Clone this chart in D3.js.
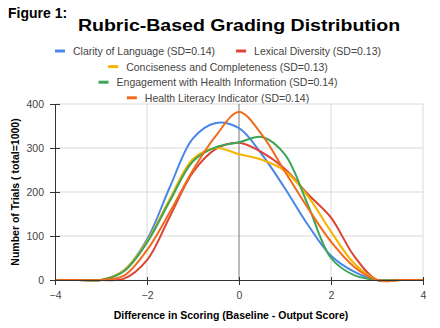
<!DOCTYPE html>
<html>
<head>
<meta charset="utf-8">
<script src="https://cdn.jsdelivr.net/npm/d3@7"></script>
<style>
  body { margin: 0; background: #fff; }
  text { font-family: Arial, "Liberation Sans", sans-serif; }
</style>
</head>
<body>
<div id="vis"></div>
<script>
// x positions of the points (score difference)
var xs = [-4, -3.5, -3, -2.5, -2, -1.5, -1, -0.5, 0, 0.5, 1, 1.5, 2, 2.5, 3, 3.5, 4];

// counts per series
var clarity     = [0, 0, 0, 22, 92, 212, 322, 357, 345, 285, 208, 125, 55, 19, 0, 0, 0];
var lexical     = [0, 0, 0, 3, 45, 145, 245, 298, 312, 290, 252, 195, 142, 55, 0, 0, 0];
var concise     = [0, 0, 0, 22, 88, 185, 275, 300, 286, 273, 248, 190, 110, 38, 0, 0, 0];
var engagement  = [0, 0, 0, 20, 85, 180, 270, 302, 313, 325, 285, 170, 50, 11, 0, 0, 0];
var literacy    = [0, 0, 0, 10, 68, 155, 250, 328, 382, 330, 246, 163, 87, 30, 0, 0, 0];

var seriesNames = ["Clarity of Language (SD=0.14)", "Lexical Diversity (SD=0.13)",
                   "Conciseness and Completeness (SD=0.13)", "Engagement with Health Information (SD=0.14)",
                   "Health Literacy Indicator (SD=0.14)"];
var seriesColors = ["#4a86e8", "#db4437", "#f4b400", "#3da556", "#f26b1d"];
var seriesValues = [clarity, lexical, concise, engagement, literacy];

var xTicks = [-4, -2, 0, 2, 4];
var yTicks = [0, 100, 200, 300, 400];

var W = 440, H = 328;
var margin = {top: 104, right: 17, bottom: 48, left: 55};

var svg = d3.select("#vis").append("svg")
    .attr("width", W)
    .attr("height", H);

var x = d3.scaleLinear().domain([-4, 4]).range([margin.left, W - margin.right]);
var y = d3.scaleLinear().domain([0, 400]).range([H - margin.bottom, margin.top]);

// titles
svg.append("text").attr("x", 8).attr("y", 18)
    .style("font-weight", "bold").style("font-size", "14px").text("Figure 1:");
svg.append("text").attr("text-anchor", "middle")
    .attr("transform", "translate(239,31) scale(1.15,1)")
    .style("font-weight", "bold").style("font-size", "17px")
    .text("Rubric-Based Grading Distribution");

// legend rows
var legendRows = [[0, 1], [2], [3], [4]];
legendRows.forEach(function(row, r) {
  var g = svg.append("g");
  var cx = 0;
  row.forEach(function(i, k) {
    if (k > 0) cx += 21;
    g.append("line").attr("x1", cx).attr("x2", cx + 10)
        .attr("y1", 0).attr("y2", 0)
        .attr("stroke", seriesColors[i]).attr("stroke-width", 3);
    var t = g.append("text").attr("x", cx + 18).attr("y", 4)
        .style("font-size", "10.5px")
        .style("fill", "#444").text(seriesNames[i]);
    cx += 18 + t.node().getComputedTextLength();
  });
  g.attr("transform", "translate(" + (218 - cx / 2) + "," + (51 + r * 15.6) + ")");
});

// gridlines
svg.append("g").selectAll("line").data(yTicks.slice(1)).enter().append("line")
    .attr("x1", x(-4)).attr("x2", x(4))
    .attr("y1", function(d) { return y(d); }).attr("y2", function(d) { return y(d); })
    .attr("stroke", "#d9d9d9");
svg.append("g").selectAll("line").data([-2, 2, 4]).enter().append("line")
    .attr("x1", function(d) { return x(d); }).attr("x2", function(d) { return x(d); })
    .attr("y1", y(0)).attr("y2", y(400))
    .attr("stroke", "#d9d9d9");
svg.append("line").attr("x1", x(0)).attr("x2", x(0))
    .attr("y1", y(0)).attr("y2", y(400)).attr("stroke", "#777");

// lines
var line = d3.line()
    .x(function(d, i) { return x(xs[i]); })
    .y(function(d) { return y(d); })
    .curve(d3.curveCatmullRom.alpha(0.5));

seriesValues.forEach(function(vals, i) {
  svg.append("path").datum(vals)
      .attr("d", line)
      .attr("fill", "none")
      .attr("stroke", seriesColors[i])
      .attr("stroke-width", 2);
});

// axes
var xAxis = svg.append("g")
    .attr("transform", "translate(0," + y(0) + ")")
    .call(d3.axisBottom(x).tickValues(xTicks).tickSize(5).tickPadding(7));
xAxis.select(".domain").attr("stroke", "#333");
xAxis.selectAll(".tick line").attr("stroke", "#333").attr("y1", -3);
xAxis.selectAll("text").style("font-size", "10.5px").style("fill", "#444")
    .style("font-family", "Arial, 'Liberation Sans', sans-serif");

var yAxis = svg.append("g")
    .attr("transform", "translate(" + x(-4) + ",0)")
    .call(d3.axisLeft(y).tickValues(yTicks).tickSize(5).tickPadding(6));
yAxis.select(".domain").attr("stroke", "#333");
yAxis.selectAll(".tick line").attr("stroke", "#333").attr("x2", 5).attr("x1", -5);
yAxis.selectAll("text").style("font-size", "10.5px").style("fill", "#444")
    .style("font-family", "Arial, 'Liberation Sans', sans-serif");

// axis titles
svg.append("text").attr("x", 231).attr("y", 319).attr("text-anchor", "middle")
    .style("font-weight", "bold").style("font-size", "10.5px")
    .text("Difference in Scoring (Baseline - Output Score)");
svg.append("text")
    .attr("transform", "translate(19," + 192 + ") rotate(-90)")
    .attr("text-anchor", "middle")
    .style("font-weight", "bold").style("font-size", "10.5px")
    .text("Number of Trials ( total=1000)");
</script>
</body>
</html>
